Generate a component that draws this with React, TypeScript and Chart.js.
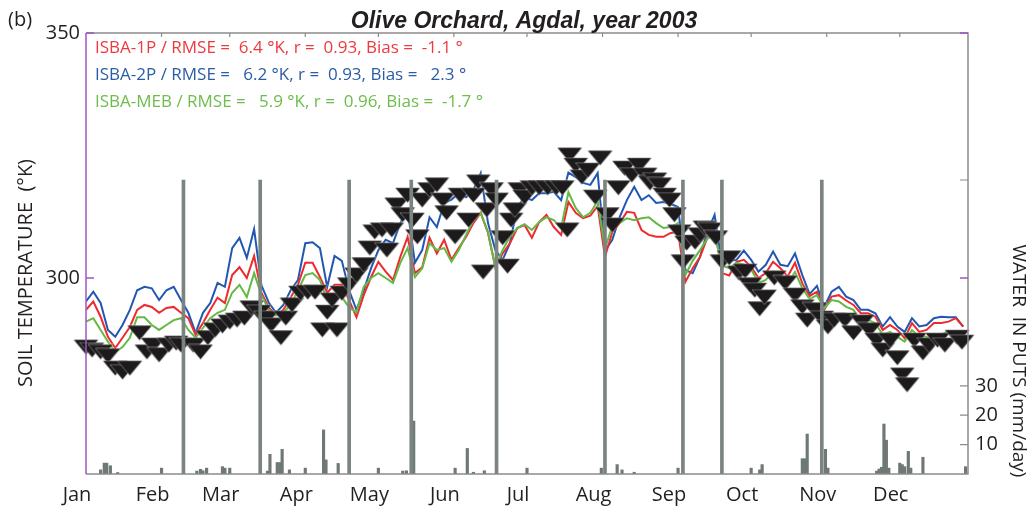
import React, { useEffect, useRef } from 'react';
import { Chart, registerables } from 'chart.js';

Chart.register(...registerables);

// ---- text ----
const panelTag = '(b)';
const titleText = 'Olive Orchard, Agdal, year 2003';
const leftTitle = 'SOIL TEMPERATURE  (\u00B0K)';
const rightTitle = 'WATER  IN PUTS (mm/day)';
const statsLines = [
  'ISBA-1P / RMSE =  6.4 \u00B0K, r =  0.93, Bias =  -1.1 \u00B0',
  'ISBA-2P / RMSE =   6.2 \u00B0K, r =  0.93, Bias =   2.3 \u00B0',
  'ISBA-MEB / RMSE =   5.9 \u00B0K, r =  0.96, Bias =  -1.7 \u00B0',
];

// ---- axes ----
const monthStarts = [0, 31, 59, 90, 120, 151, 181, 212, 243, 273, 304, 334];
const monthLabels = ['Jan', 'Feb', 'Mar', 'Apr', 'May', 'Jun', 'Jul', 'Aug', 'Sep', 'Oct', 'Nov', 'Dec'];
const tempTicks = [300, 350];
const waterTicks = [10, 20, 30, 100];
const waterTickLabels = ['10', '20', '30', ''];

// ---- simulated soil temperature (K), day of year ----
const modelDays = [
  0, 3, 6, 9, 12, 15, 18, 21, 24, 27, 30, 33, 36, 39, 42, 45, 48, 51, 54, 57,
  60, 63, 66, 69, 72, 75, 78, 81, 84, 87, 90, 93, 96, 99, 102, 105, 108, 111, 114, 117,
  120, 123, 126, 129, 132, 135, 138, 141, 144, 147, 150, 153, 156, 159, 162, 165, 168, 171, 174, 177,
  180, 183, 186, 189, 192, 195, 198, 201, 204, 207, 210, 213, 216, 219, 222, 225, 228, 231, 234, 237,
  240, 243, 246, 249, 252, 255, 258, 261, 264, 267, 270, 273, 276, 279, 282, 285, 288, 291, 294, 297,
  300, 303, 306, 309, 312, 315, 318, 321, 324, 327, 330, 333, 336, 339, 342, 345, 348, 351, 354, 357,
  360,
];

const isba1p = [
  293.5, 295.2, 292.1, 288.0, 285.7, 287.8, 290.0, 293.5, 294.5, 294.1,
  292.9, 293.9, 294.1, 292.9, 291.8, 288.4, 290.8, 293.5, 296.0, 294.9,
  300.6, 302.2, 300.0, 304.5, 297.0, 294.0, 292.4, 293.5, 296.0, 298.6,
  303.1, 303.1, 300.2, 297.0, 298.6, 298.6, 295.5, 292.0, 296.5, 300.2,
  303.3, 301.3, 299.6, 304.3, 308.4, 301.0, 302.2, 308.2, 305.0, 307.8,
  303.7, 306.1, 308.4, 311.2, 313.3, 309.2, 302.2, 305.0, 307.1, 310.2,
  310.8, 308.2, 311.4, 312.9, 310.4, 308.8, 315.5, 313.3, 312.2, 312.7,
  314.7, 304.3, 309.4, 311.2, 313.5, 313.3, 309.8, 308.8, 308.4, 308.4,
  309.2, 309.4, 299.2, 302.0, 304.3, 308.2, 310.2, 301.0, 300.5, 303.3,
  303.7, 302.3, 300.0, 301.0, 303.3, 302.0, 300.3, 303.1, 298.9, 296.3,
  297.2, 293.5, 296.2, 296.5, 295.4, 294.5, 292.8, 292.8, 292.1, 289.4,
  290.4, 289.4, 287.7, 290.8, 289.0, 289.4, 290.8, 290.8, 291.1, 291.8,
  290.1,
];

const isba2p = [
  295.2, 297.2, 294.9, 289.4, 288.0, 290.4, 293.5, 297.5, 298.2, 297.9,
  295.5, 297.5, 298.2, 295.5, 292.9, 288.8, 292.9, 294.9, 299.0, 298.2,
  306.1, 308.2, 304.1, 310.0, 298.5, 295.0, 292.9, 294.5, 297.5, 299.6,
  307.1, 307.3, 306.1, 298.2, 304.5, 303.5, 297.5, 293.5, 297.5, 302.0,
  305.7, 307.8, 307.1, 311.2, 313.9, 303.1, 305.7, 312.4, 310.4, 315.3,
  316.0, 317.3, 316.5, 318.0, 321.4, 311.2, 305.7, 303.7, 307.1, 314.5,
  316.5, 315.9, 317.3, 317.3, 317.6, 315.9, 321.5, 320.6, 319.4, 319.0,
  321.4, 305.5, 307.8, 312.4, 315.9, 318.6, 315.9, 316.9, 315.3, 315.5,
  315.1, 314.5, 301.6, 301.0, 304.3, 309.4, 312.9, 303.0, 303.5, 303.7,
  305.6, 303.7, 301.3, 302.7, 305.4, 302.7, 302.4, 305.0, 300.6, 296.7,
  298.4, 294.1, 297.2, 298.2, 296.2, 295.5, 293.5, 293.5, 292.8, 290.1,
  292.0, 290.1, 289.0, 291.8, 290.1, 290.4, 291.8, 292.1, 292.0, 292.0,
  290.1,
];

const isbaMeb = [
  291.1, 291.8, 289.4, 287.0, 284.9, 285.9, 287.8, 292.0, 292.0, 290.4,
  289.4, 290.4, 291.4, 291.8, 289.4, 287.8, 289.8, 291.8, 292.9, 293.5,
  297.0, 298.6, 296.1, 301.0, 296.5, 293.5, 292.4, 293.0, 294.5, 297.5,
  300.6, 301.0, 299.6, 295.5, 296.1, 296.1, 294.0, 293.0, 298.2, 300.0,
  301.0, 300.0, 299.0, 303.1, 306.1, 300.2, 302.0, 307.1, 305.7, 306.1,
  303.3, 305.7, 308.8, 311.8, 313.3, 309.4, 302.2, 305.7, 308.4, 310.2,
  311.0, 309.8, 311.4, 312.4, 311.8, 310.2, 317.5, 314.3, 312.4, 313.3,
  315.7, 306.0, 310.6, 311.2, 312.2, 311.8, 312.2, 312.4, 311.2, 310.2,
  310.4, 311.2, 300.6, 303.5, 305.7, 308.0, 309.0, 302.5, 302.0, 303.1,
  302.7, 301.8, 299.0, 299.6, 301.3, 299.2, 299.0, 301.2, 297.9, 295.7,
  296.5, 293.8, 295.5, 295.2, 294.1, 293.5, 291.1, 291.4, 290.8, 288.4,
  289.0, 288.0, 287.0, 289.4, 288.0, 288.0, 287.0, 288.4, 289.2, 288.4,
  287.3,
];

// ---- observed soil temperature (K) ----
const obsDays = [
  0, 2.5, 6, 9, 12, 15, 18, 22, 25, 27.5, 30, 34, 37, 39, 44, 47, 50, 53, 56, 59,
  62, 65, 68, 71, 74, 76, 80, 82, 84.5, 88, 91, 94, 97, 99, 101, 103, 105, 108, 111, 114,
  116.5, 118.5, 121.5, 123.5, 125.5, 127.5, 130, 132, 134, 136, 138, 141, 144, 146.5, 148, 151.5, 153.5, 157, 159, 161,
  163, 164.5, 166.5, 168.5, 171, 173, 174.5, 176, 178, 180, 183, 186, 189.5, 193, 195.5, 197.5, 198.5, 201, 203.5, 206,
  209, 211, 214, 216, 218.5, 221, 224, 227, 229.5, 231.5, 233.5, 235.5, 237.5, 239.5, 241.5, 243.5, 245, 246.5, 250, 252,
  254, 256, 258.5, 261, 264, 268, 270.5, 272.5, 274.5, 276.5, 278.5, 282.5, 287, 291, 294, 296, 299, 302, 304.5, 307,
  311.5, 315, 318.5, 321.5, 324.5, 327, 330, 333, 335, 337, 340, 343.5, 346, 349.5, 352.5, 357.5, 359.5,
];

const obsTemp = [
  285.9, 285.3, 284.9, 284.1, 281.6, 280.8, 281.6, 288.8, 284.9, 286.3, 284.3, 286.3, 286.7, 286.3, 286.3, 284.9, 287.8, 289.4, 290.2, 291.0,
  291.4, 291.8, 293.9, 293.0, 291.8, 290.4, 287.8, 291.8, 294.5, 296.9, 297.1, 297.1, 289.4, 293.0, 295.5, 289.4, 296.9, 298.6, 300.6, 302.7,
  306.1, 309.4, 309.8, 305.7, 309.8, 314.9, 312.9, 316.9, 311.8, 308.4, 315.9, 318.0, 319.0, 315.9, 313.3, 308.4, 316.9, 311.8, 316.9, 319.6,
  301.2, 313.9, 318.0, 315.9, 308.2, 302.4, 311.8, 313.9, 318.0, 316.5, 318.4, 318.4, 318.4, 318.4, 318.4, 309.8, 325.1, 323.0, 320.6, 322.0,
  316.5, 324.5, 312.9, 310.8, 318.4, 322.4, 321.0, 323.0, 321.0, 319.4, 320.0, 319.0, 316.9, 315.9, 312.9, 309.4, 303.3, 307.1, 307.3, 308.8,
  310.2, 309.8, 308.2, 303.3, 304.1, 301.0, 301.4, 298.6, 297.5, 293.7, 296.1, 300.0, 299.0, 296.5, 294.1, 291.4, 293.5, 291.8, 290.0, 291.4,
  291.4, 288.8, 291.0, 289.4, 287.3, 285.3, 287.3, 283.7, 280.2, 278.2, 287.3, 284.7, 286.3, 287.3, 286.3, 287.9, 286.9,
];

// ---- water inputs (mm/day) ----
const rainDays = [
  6, 7.5, 8.5, 10, 13, 31, 45.5, 47, 48, 49.5, 56, 57, 59, 74.5, 75.5, 78.5, 79.5, 80.5, 83.5, 90,
  97.5, 98.5, 103.5, 120, 130, 131.5, 134.5, 151.5, 156.5, 159, 163.5, 181, 211.5, 218, 220, 225, 243, 273, 276.5, 277.5,
  294, 295, 296, 303.5, 304.5, 324.5, 325.5, 326.5, 327.5, 328.5, 329.5, 334, 335, 336, 337.5, 338.5, 343.5, 361,
];
const rainMm = [
  1.4, 3.7, 3.7, 2.8, 0.5, 2.0, 1.0, 1.6, 1.1, 2.0, 2.5, 2.0, 2.0, 1.0, 6.7, 3.9, 3.9, 8.4, 1.4, 2.0,
  15.0, 4.8, 3.6, 2.0, 1.0, 1.1, 18.0, 2.0, 8.7, 0.6, 1.1, 2.0, 2.0, 3.2, 1.4, 0.6, 2.0, 2.0, 1.4, 3.2,
  5.2, 5.2, 13.6, 8.4, 2.0, 1.0, 1.7, 2.3, 17.0, 11.5, 2.0, 3.7, 3.2, 2.5, 7.7, 2.0, 5.7, 2.5,
];
const irrigationDays = [40, 71.5, 108, 133.5, 168.5, 213, 245, 261, 302];
const irrigationMm = [100, 100, 100, 100, 100, 100, 100, 100, 100];

// ---- style ----
const TEXT = '#231f20';
const SANS = '"Open Sans", "Noto Sans", sans-serif';
const RED = '#ee2a2e';
const BLUE = '#2157b3';
const GREEN = '#63b944';
const statsColors = ['#ee3a3e', '#2b5ca8', '#6cbd4c'];
const FRAME = '#8c8c8c';
const PURPLE = '#9d55c4';
const MARKER = '#1c1a1b';

// Downward-pointing observation marker, wider than it is tall.
function makeTriangle(w: number, h: number): HTMLCanvasElement {
  const c = document.createElement('canvas');
  c.width = w + 2;
  c.height = h + 2;
  const g = c.getContext('2d') as CanvasRenderingContext2D;
  g.beginPath();
  g.moveTo(1, 1);
  g.lineTo(w + 1, 1);
  g.lineTo(w / 2 + 1, h + 1);
  g.closePath();
  g.fillStyle = MARKER;
  g.fill();
  g.strokeStyle = 'rgba(255,255,255,0.7)';
  g.lineWidth = 0.5;
  g.stroke();
  return c;
}

const framePlugin = {
  id: 'frame',
  afterDatasetsDraw(chart: any) {
    const { ctx, chartArea: a, scales } = chart;
    ctx.save();
    ctx.lineWidth = 1.5;
    ctx.strokeStyle = FRAME;
    ctx.beginPath();
    ctx.moveTo(a.left, a.top);
    ctx.lineTo(a.right, a.top);
    ctx.lineTo(a.right, a.bottom);
    ctx.lineTo(a.left, a.bottom);
    ctx.stroke();
    ctx.lineWidth = 1.2;
    ctx.beginPath();
    monthStarts.slice(1).forEach((d) => {
      const x = scales.x.getPixelForValue(d);
      ctx.moveTo(x, a.top);
      ctx.lineTo(x, a.top + 4);
    });
    waterTicks.forEach((v) => {
      const y = scales.yR.getPixelForValue(v);
      ctx.moveTo(a.right, y);
      ctx.lineTo(a.right - 8, y);
    });
    ctx.stroke();
    ctx.strokeStyle = PURPLE;
    ctx.lineWidth = 1.5;
    ctx.beginPath();
    ctx.moveTo(a.left, a.top);
    ctx.lineTo(a.left, a.bottom);
    tempTicks.forEach((v) => {
      const y = scales.y.getPixelForValue(v);
      ctx.moveTo(a.left, y);
      ctx.lineTo(a.left + 8, y);
      ctx.moveTo(a.right, y);
      ctx.lineTo(a.right - 8, y);
    });
    ctx.stroke();
    ctx.restore();
  },
  afterDraw(chart: any) {
    const { ctx } = chart;
    ctx.save();
    ctx.textBaseline = 'alphabetic';
    ctx.fillStyle = TEXT;
    ctx.textAlign = 'left';
    ctx.font = `20px ${SANS}`;
    ctx.fillText(panelTag, 8, 26);

    ctx.textAlign = 'center';
    ctx.font = 'italic bold 23px "Liberation Sans", Arial, sans-serif';
    ctx.fillText(titleText, 524, 28);

    ctx.textAlign = 'left';
    ctx.font = `17px ${SANS}`;
    statsLines.forEach((t, i) => {
      ctx.fillStyle = statsColors[i];
      ctx.fillText(t, 95, 53 + i * 27);
    });

    ctx.fillStyle = TEXT;
    ctx.textAlign = 'center';
    ctx.font = `20px ${SANS}`;
    ctx.save();
    ctx.translate(32, 273);
    ctx.rotate(-Math.PI / 2);
    ctx.fillText(leftTitle, 0, 0);
    ctx.restore();

    ctx.font = `19px ${SANS}`;
    ctx.save();
    ctx.translate(1013, 361);
    ctx.rotate(Math.PI / 2);
    ctx.fillText(rightTitle, 0, 0);
    ctx.restore();
    ctx.restore();
  },
};

export default function App() {
  const ref = useRef<HTMLCanvasElement>(null);

  useEffect(() => {
    const canvas = ref.current;
    if (!canvas) return;
    const marker = makeTriangle(25, 15);
    const pts = (xs: number[], ys: number[]) => xs.map((x, i) => ({ x, y: ys[i] }));
    const tickFont = { family: SANS, size: 20 };

    const chart = new Chart(canvas, {
      type: 'line',
      data: {
        datasets: [
          {
            type: 'bar',
            label: 'Irrigation',
            data: pts(irrigationDays, irrigationMm),
            yAxisID: 'yR',
            backgroundColor: '#7b8481',
            barThickness: 3,
            grouped: false,
            order: 0,
          } as any,
          {
            type: 'bar',
            label: 'Rain',
            data: pts(rainDays, rainMm),
            yAxisID: 'yR',
            backgroundColor: '#6e7874',
            barThickness: 2.5,
            grouped: false,
            order: 1,
          } as any,
          {
            label: 'Observed',
            data: pts(obsDays, obsTemp),
            yAxisID: 'y',
            showLine: false,
            pointStyle: marker,
            pointRadius: 6,
            clip: false,
            order: 2,
          } as any,
          {
            label: 'ISBA-MEB',
            data: pts(modelDays, isbaMeb),
            yAxisID: 'y',
            borderColor: GREEN,
            borderWidth: 2,
            pointRadius: 0,
            tension: 0,
            order: 3,
          },
          {
            label: 'ISBA-1P',
            data: pts(modelDays, isba1p),
            yAxisID: 'y',
            borderColor: RED,
            borderWidth: 2,
            pointRadius: 0,
            tension: 0,
            order: 4,
          },
          {
            label: 'ISBA-2P',
            data: pts(modelDays, isba2p),
            yAxisID: 'y',
            borderColor: BLUE,
            borderWidth: 2,
            pointRadius: 0,
            tension: 0,
            order: 5,
          },
        ],
      },
      options: {
        responsive: false,
        maintainAspectRatio: false,
        animation: false,
        devicePixelRatio: 1,
        events: [],
        layout: { padding: { top: 33, left: 0, right: 0, bottom: 0 } },
        plugins: { legend: { display: false }, tooltip: { enabled: false }, title: { display: false } },
        scales: {
          x: {
            type: 'linear',
            position: 'bottom',
            min: 0,
            max: 362,
            offset: false,
            afterBuildTicks: (s: any) => {
              s.ticks = monthStarts.map((v) => ({ value: v }));
            },
            afterFit: (s: any) => {
              s.height = 35;
            },
            ticks: {
              autoSkip: false,
              maxRotation: 0,
              padding: 9,
              labelOffset: -9,
              color: TEXT,
              font: tickFont,
              callback: (v: any) => monthLabels[monthStarts.indexOf(Number(v))],
            },
            grid: { display: false, drawTicks: false, offset: false },
            border: { display: false },
          },
          y: {
            type: 'linear',
            position: 'left',
            min: 260,
            max: 350,
            afterBuildTicks: (s: any) => {
              s.ticks = tempTicks.map((v) => ({ value: v }));
            },
            afterFit: (s: any) => {
              s.width = 86;
            },
            ticks: { padding: 6, color: TEXT, font: tickFont, callback: (v: any) => String(v) },
            grid: { display: false, drawTicks: false },
            border: { display: false },
          },
          yR: {
            type: 'linear',
            position: 'right',
            min: 0,
            max: 150,
            afterBuildTicks: (s: any) => {
              s.ticks = waterTicks.map((v) => ({ value: v }));
            },
            afterFit: (s: any) => {
              s.width = 64;
            },
            ticks: {
              padding: 7,
              color: TEXT,
              font: tickFont,
              callback: (v: any) => waterTickLabels[waterTicks.indexOf(Number(v))],
            },
            grid: { display: false, drawTicks: false },
            border: { display: false },
          },
        },
      } as any,
      plugins: [framePlugin],
    });
    return () => chart.destroy();
  }, []);

  return (
    <div style={{ position: 'fixed', left: 0, top: 0, width: 1032, height: 509, background: '#ffffff' }}>
      <canvas ref={ref} width={1032} height={509} style={{ display: 'block', width: 1032, height: 509 }} />
    </div>
  );
}
